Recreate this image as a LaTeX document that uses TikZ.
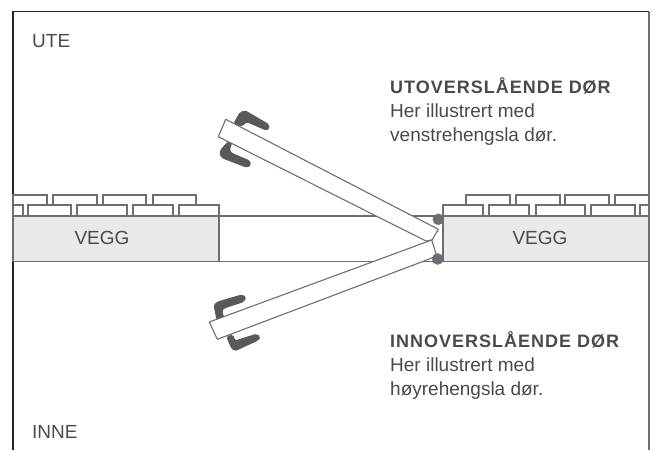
\documentclass[tikz,border=0pt]{standalone}
\usepackage{fontspec}
\setmainfont{Liberation Sans}
\newfontfamily\headfont[LetterSpace=5.5]{Liberation Sans}
\definecolor{wallgray}{HTML}{E9E9EB}
\definecolor{linegray}{HTML}{6D6E71}
\definecolor{handlegray}{HTML}{58595B}
\definecolor{textgray}{HTML}{4A4A4C}
\tikzset{
  wallline/.style={draw=linegray,line width=1.1pt},
  wallbox/.style={wallline,fill=wallgray},
  doorleaf/.style={wallline,fill=white,line join=round},
  handlegrip/.style={fill=handlegray,draw=handlegray,line width=0.9pt,rounded corners=1.5pt},
  hingept/.style={circle,draw=linegray,fill=linegray,inner sep=0pt,minimum size=11pt},
  lbl/.style={text=textgray,font=\fontsize{19}{19}\selectfont,anchor=base west,inner sep=0pt},
  lblbold/.style={lbl,font=\fontsize{18}{19}\headfont\bfseries},
}
\begin{document}
\begin{tikzpicture}[x=1pt,y=-1pt]
    \useasboundingbox (0,0) rectangle (652,450);

    % frame, open at the bottom
    \coordinate (fbl) at (13,450); \coordinate (ftl) at (13,11.5);
    \coordinate (ftr) at (649,11.5); \coordinate (fbr) at (649,450);
    \draw[draw=black!85,line width=1.1pt] (fbl)--(ftl)--(ftr);
    \draw[wallline] (ftr)--(fbr);

    % walls
    \draw[wallbox] (13,216) rectangle (219,261.5);
    \draw[wallbox] (443,216) rectangle (649,261.5);
    \node[lbl,anchor=center] (vegg1) at (102,237.5) {VEGG};
    \node[lbl,anchor=center] (vegg2) at (540,237.5) {VEGG};

    % opening between the walls
    \coordinate (o1) at (219,216); \coordinate (o2) at (438,216);
    \coordinate (o3) at (219,261.5); \coordinate (o4) at (443,261.5);
    \draw[wallline] (o1)--(o2); \draw[wallline] (o3)--(o4);

    % cladding left
    \foreach \a/\b in {13/23,28/71,77/127,133/173,179/219} \draw[wallline] (\a,216)--(\a,205)--(\b,205)--(\b,216);
    \foreach \a/\b in {13/47,53/97,103/146,153/196} \draw[wallline] (\a,205)--(\a,195)--(\b,195)--(\b,205);

    % cladding right
    \foreach \a/\b in {443/483,489/529,536/585,591/635,640/649} \draw[wallline] (\a,216)--(\a,205)--(\b,205)--(\b,216);
    \foreach \a/\b in {466/510,516/560,565/609,615/649} \draw[wallline] (\a,205)--(\a,195)--(\b,195)--(\b,205);

    % door opening out
    \filldraw[handlegrip] (234,123.3)--(240,112.7)--(245,110.7)--(268.3,124.3)--(269.3,128.3)--(266,130)--(246.7,121.7)--(241.7,126)--cycle;
    \filldraw[handlegrip] (228.3,141.7)--(220.7,150)--(220,155)--(223.3,158.3)--(246.7,167.3)--(250.7,165)--(249.3,160.7)--(231.7,153.3)--(229.3,150)--(231.7,143.3)--cycle;
    \draw[doorleaf] (225.7,119.3)--(438.3,229.3)--(432,240)--(426,241)--(218.3,136.7)--cycle;

    % door opening in
    \filldraw[handlegrip] (214,305)--(218.3,301.7)--(241.7,295)--(246,297.3)--(243.3,301.7)--(223.3,308.3)--(221.7,311.7)--(224.3,318.3)--(217.3,321.7)--cycle;
    \filldraw[handlegrip] (226.7,336.7)--(231.7,348.3)--(235,350.7)--(258.3,340)--(260,336.7)--(256,334.3)--(235,341)--(232.7,335)--cycle;
    \draw[doorleaf] (209.3,322)--(431.7,240)--(436.7,256)--(426.7,260)--(217.3,339.3)--cycle;

    % hinges
    \node[hingept] (h1) at (438.3,219.3) {};
    \node[hingept] (h2) at (437.7,259) {};

    % labels
    \node[lbl] (ute) at (32,47) {UTE};
    \node[lbl] (inne) at (32,438) {INNE};
    \node[lblbold] (t1) at (390,93) {UTOVERSLÅENDE DØR};
    \node[lbl] (t2) at (390,117) {Her illustrert med};
    \node[lbl] (t3) at (390,141) {venstrehengsla dør.};
    \node[lblbold] (t4) at (390,347) {INNOVERSLÅENDE DØR};
    \node[lbl] (t5) at (390,371) {Her illustrert med};
    \node[lbl] (t6) at (390,395) {høyrehengsla dør.};
\end{tikzpicture}
\end{document}
